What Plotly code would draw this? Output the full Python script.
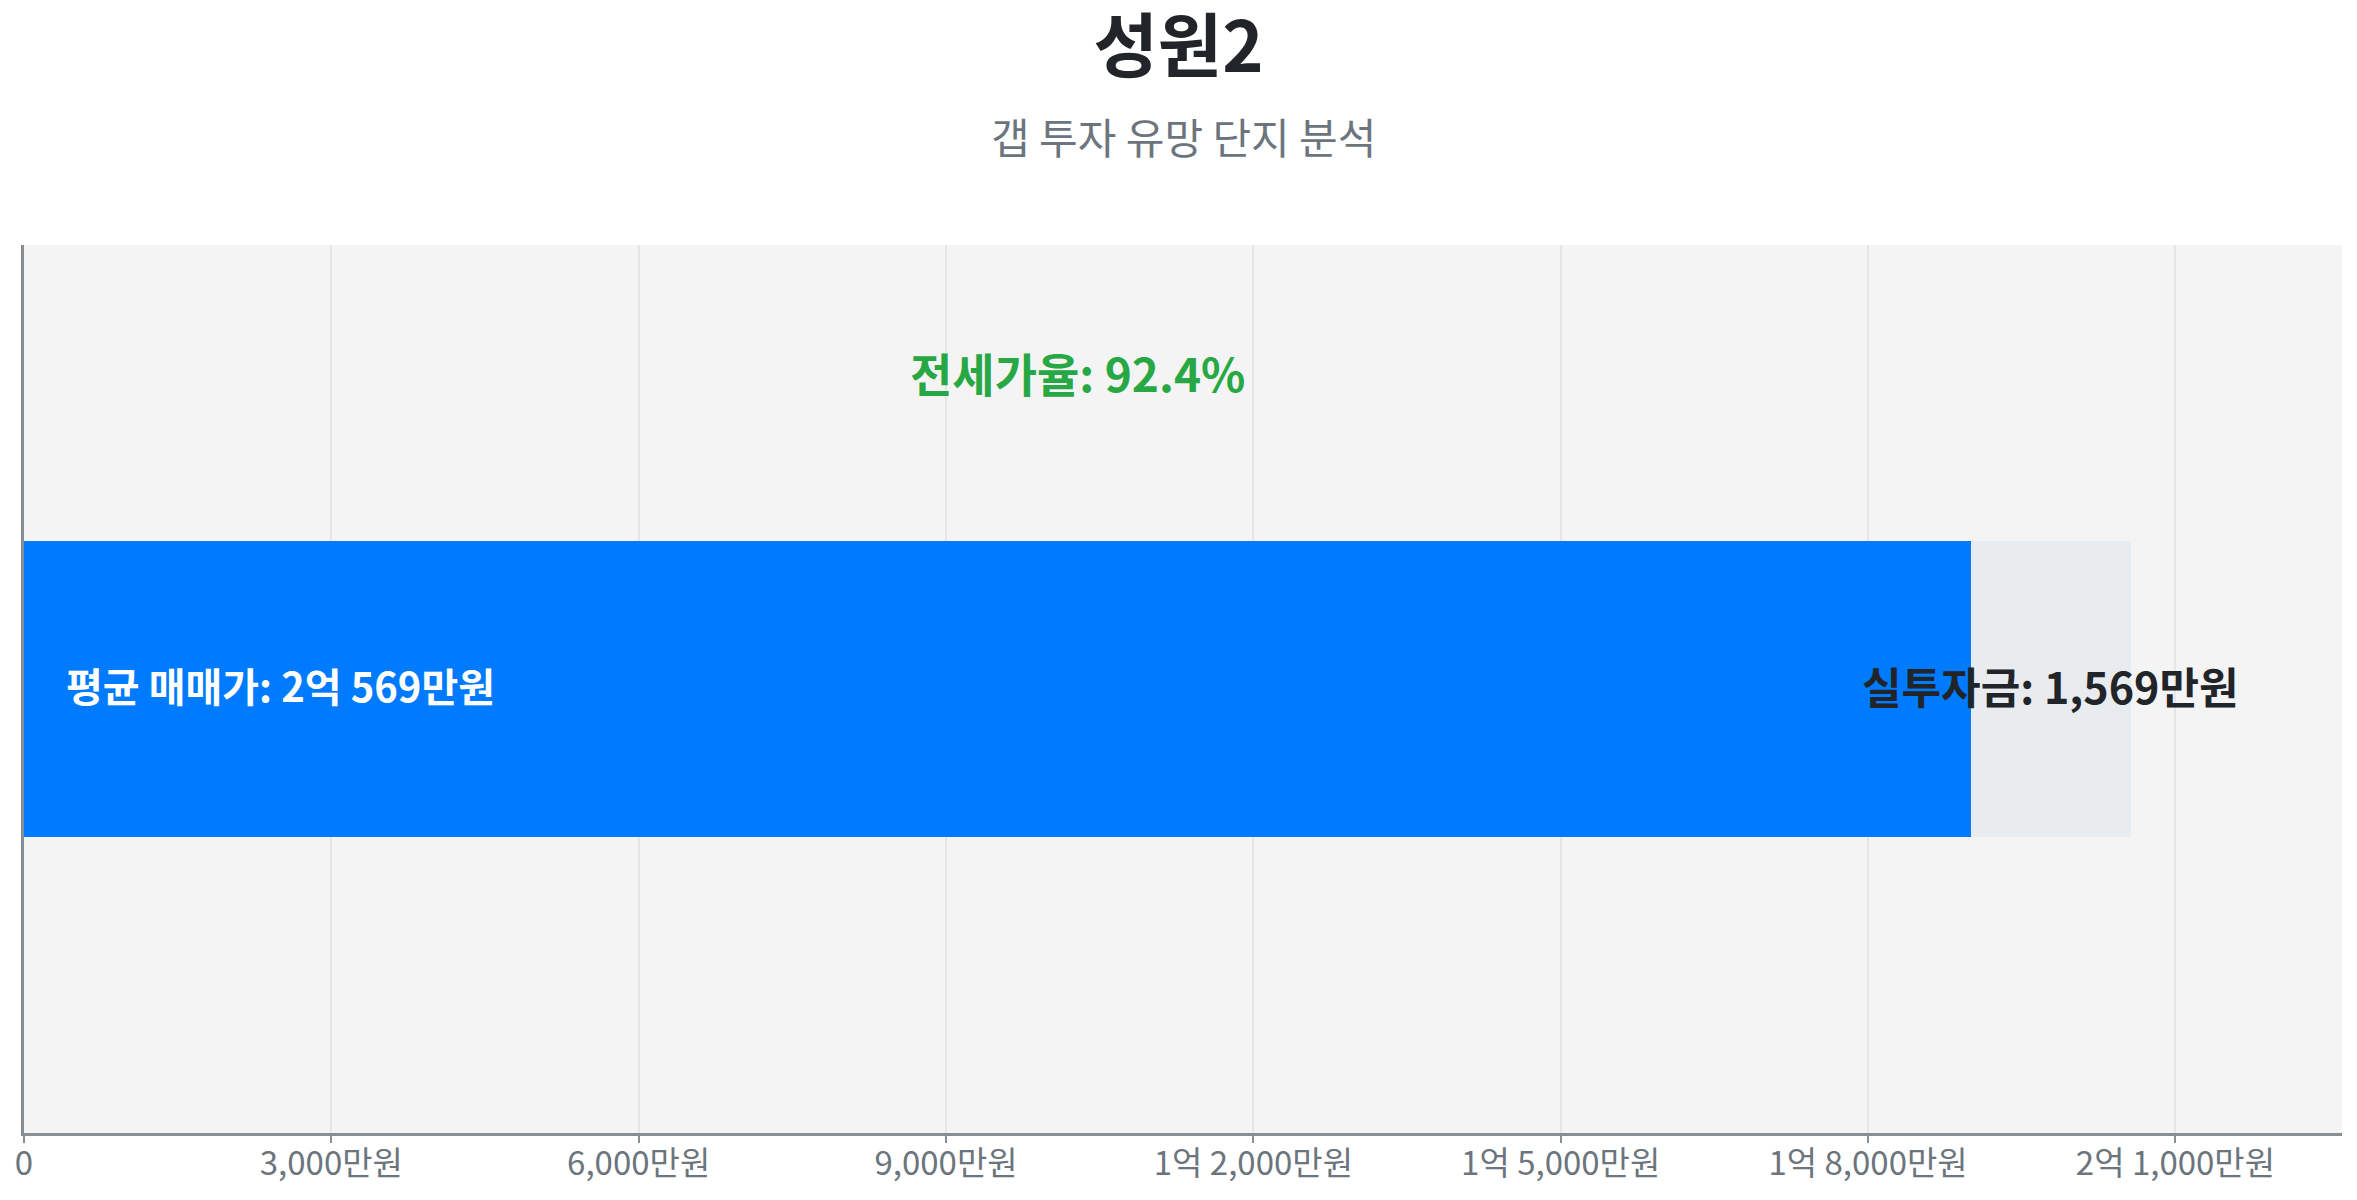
import plotly.graph_objects as go

# --- data (unit: 만원) ---
complex_name = '성원2'
subtitle = '갭 투자 유망 단지 분석'
avg_price = 20569          # 평균 매매가
gap_amount = 1569          # 실투자금 (매매가 - 전세가)
jeonse_price = avg_price - gap_amount
jeonse_ratio = 92.4

tick_vals = [0, 3000, 6000, 9000, 12000, 15000, 18000, 21000]
tick_text = ['0', '3,000만원', '6,000만원', '9,000만원', '1억 2,000만원',
             '1억 5,000만원', '1억 8,000만원', '2억 1,000만원']

price_label = '평균 매매가: 2억 569만원'
gap_label = '실투자금: 1,569만원'
ratio_label = f'전세가율: {jeonse_ratio}%'

FONT = 'Noto Sans CJK KR'
BLUE = '#007bff'
LIGHT = '#e9ecef'
GREEN = '#28a745'
DARK = '#212529'
MUTED = '#6c757d'
AXIS = '#868e96'

W, H = 2341, 1184   # page body keeps an 8px margin
M_T, M_B = 237, 42
plot_h = H - M_T - M_B

fig = go.Figure()

# stacked horizontal bar: jeonse part + gap part
fig.add_trace(go.Bar(
    y=[complex_name], x=[jeonse_price], orientation='h',
    marker=dict(color=BLUE, line=dict(width=0)), width=1,
    hoverinfo='skip', showlegend=False,
))
fig.add_trace(go.Bar(
    y=[complex_name], x=[gap_amount], orientation='h',
    marker=dict(color=LIGHT, line=dict(width=0)), width=1,
    hoverinfo='skip', showlegend=False,
))

# labels
fig.add_annotation(
    x=0, y=complex_name, text=price_label, showarrow=False,
    xanchor='left', xshift=40, yshift=4,
    font=dict(family=FONT, size=40, color='white', weight='bold'),
)
fig.add_annotation(
    x=jeonse_price + gap_amount / 2, y=complex_name, text=gap_label, showarrow=False,
    xanchor='center', yshift=4,
    font=dict(family=FONT, size=43, color=DARK, weight='bold'),
)
fig.add_annotation(
    x=avg_price / 2, y=0.5, yref='y', text=ratio_label, showarrow=False,
    xanchor='center', yanchor='middle', yshift=169,
    font=dict(family=FONT, size=46, color=GREEN, weight='bold'),
)
# subtitle under the title (paper coords, above the plot area)
fig.add_annotation(
    x=0.5, xref='paper', y=(H - M_B - 125) / plot_h, yref='paper',
    text=subtitle, showarrow=False, xanchor='center', yanchor='middle',
    font=dict(family=FONT, size=42, color=MUTED),
)

fig.update_layout(
    barmode='stack',
    width=W, height=H,
    paper_bgcolor='white',
    plot_bgcolor='#f4f4f4',
    margin=dict(l=16, r=7, t=M_T, b=M_B),
    font=dict(family=FONT, color=MUTED),
    title=dict(
        text=complex_name,
        font=dict(family=FONT, size=70, color=DARK, weight='bold'),
        x=0.5, xanchor='center',
        y=1 - 39 / H, yref='container', yanchor='middle',
    ),
)

fig.update_xaxes(
    range=[0, avg_price * 1.1],
    tickvals=tick_vals, ticktext=tick_text,
    tickfont=dict(family=FONT, size=33, color=MUTED),
    ticklabelstandoff=-7,
    showgrid=True, gridcolor='#e6e6e6', gridwidth=1.5,
    showline=True, linecolor=AXIS, linewidth=2.5,
    ticks='outside', ticklen=7, tickwidth=1.5, tickcolor=AXIS,
    zeroline=False,
)
fig.update_yaxes(
    range=[-1.5, 1.5],
    showticklabels=False, showgrid=False, zeroline=False,
    showline=True, linecolor=AXIS, linewidth=2.5,
)

fig.write_html('out.html')
